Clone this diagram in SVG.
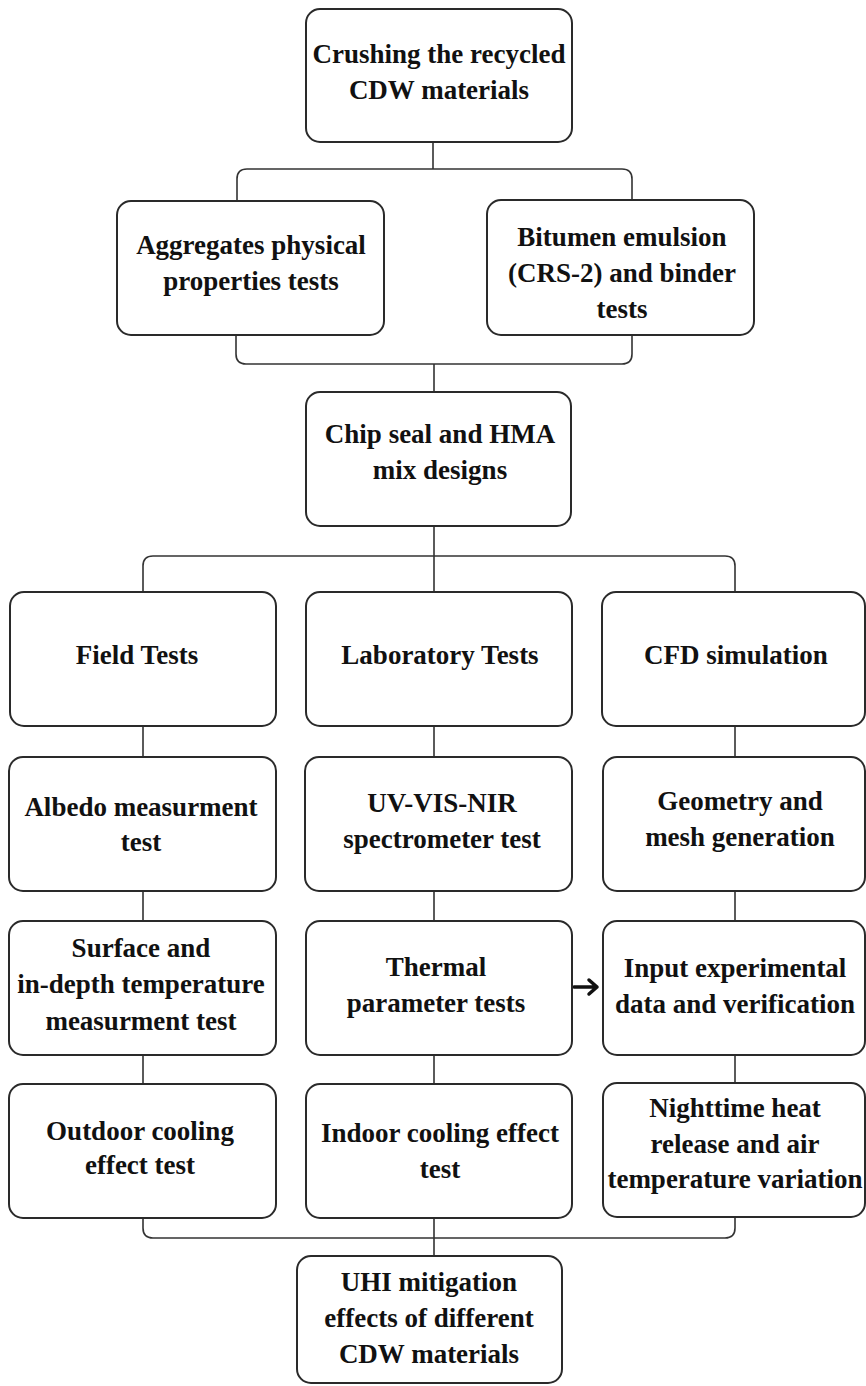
<svg xmlns="http://www.w3.org/2000/svg" width="866" height="1386" viewBox="0 0 866 1386">
<style>
.box{fill:#fff;stroke:#2a2a2a;stroke-width:2}
.t{font-family:"Liberation Serif","Times New Roman",serif;font-weight:bold;font-size:27px;fill:#111;text-anchor:middle}
.c{fill:none;stroke:#333;stroke-width:1.6}
.arr{fill:none;stroke:#111;stroke-width:3.5;stroke-linecap:round;stroke-linejoin:round}
</style>
<rect width="866" height="1386" fill="#fff"/>
<g id="connectors">
<path class="c" d="M433,142 V169 M237,200 V179 Q237,169 247,169 H622 Q632,169 632,179 V200"/>
<path class="c" d="M236,335 V354 Q236,364 246,364 H622 Q632,364 632,354 V335 M434,364 V392"/>
<path class="c" d="M434,526 V592 M143,592 V566 Q143,556 153,556 H725 Q735,556 735,566 V592"/>
<path class="c" d="M143,726 V757 M434,726 V757 M735,726 V757 M143,891 V921 M434,891 V921 M735,891 V921 M143,1055 V1084 M434,1055 V1084 M735,1055 V1084"/>
<path class="c" d="M143,1218 V1228 Q143,1238 153,1238 H725 Q735,1238 735,1228 V1218 M434,1218 V1256"/>
<path class="arr" d="M574,987 H597 M589,980 L597,987 L589,994"/>
</g>
<g id="n-crushing"><rect class="box" x="306" y="9" width="266" height="133" rx="14"/><text class="t" x="439"><tspan x="439" y="63">Crushing the recycled</tspan><tspan x="439" y="99">CDW materials</tspan></text></g>
<g id="n-aggregates"><rect class="box" x="117" y="201" width="267" height="134" rx="14"/><text class="t"><tspan x="251" y="254">Aggregates physical</tspan><tspan x="251" y="290">properties tests</tspan></text></g>
<g id="n-bitumen"><rect class="box" x="487" y="200" width="267" height="135" rx="14"/><text class="t"><tspan x="622" y="246">Bitumen emulsion</tspan><tspan x="622" y="282">(CRS-2) and binder</tspan><tspan x="622" y="318">tests</tspan></text></g>
<g id="n-chipseal"><rect class="box" x="306" y="392" width="265" height="134" rx="14"/><text class="t"><tspan x="440" y="443">Chip seal and HMA</tspan><tspan x="440" y="479">mix designs</tspan></text></g>
<g id="n-field"><rect class="box" x="10" y="592" width="266" height="134" rx="14"/><text class="t" x="137" y="664">Field Tests</text></g>
<g id="n-lab"><rect class="box" x="306" y="592" width="266" height="134" rx="14"/><text class="t" x="440" y="664">Laboratory Tests</text></g>
<g id="n-cfd"><rect class="box" x="602" y="592" width="263" height="134" rx="14"/><text class="t" x="736" y="664">CFD simulation</text></g>
<g id="n-albedo"><rect class="box" x="9" y="757" width="267" height="134" rx="14"/><text class="t"><tspan x="141" y="816">Albedo measurment</tspan><tspan x="141" y="851">test</tspan></text></g>
<g id="n-uv"><rect class="box" x="305" y="757" width="267" height="134" rx="14"/><text class="t"><tspan x="442" y="812">UV-VIS-NIR</tspan><tspan x="442" y="848">spectrometer test</tspan></text></g>
<g id="n-geometry"><rect class="box" x="603" y="757" width="262" height="134" rx="14"/><text class="t"><tspan x="740" y="810">Geometry and</tspan><tspan x="740" y="846">mesh generation</tspan></text></g>
<g id="n-surface"><rect class="box" x="9" y="921" width="267" height="134" rx="14"/><text class="t"><tspan x="141" y="957">Surface and</tspan><tspan x="141" y="993">in-depth temperature</tspan><tspan x="141" y="1030">measurment test</tspan></text></g>
<g id="n-thermal"><rect class="box" x="306" y="921" width="266" height="134" rx="14"/><text class="t"><tspan x="436" y="976">Thermal</tspan><tspan x="436" y="1012">parameter tests</tspan></text></g>
<g id="n-input"><rect class="box" x="603" y="921" width="262" height="134" rx="14"/><text class="t"><tspan x="735" y="977">Input experimental</tspan><tspan x="735" y="1013">data and verification</tspan></text></g>
<g id="n-outdoor"><rect class="box" x="9" y="1084" width="267" height="134" rx="14"/><text class="t"><tspan x="140" y="1140">Outdoor cooling</tspan><tspan x="140" y="1174">effect test</tspan></text></g>
<g id="n-indoor"><rect class="box" x="306" y="1084" width="266" height="134" rx="14"/><text class="t"><tspan x="440" y="1142">Indoor cooling effect</tspan><tspan x="440" y="1178">test</tspan></text></g>
<g id="n-nighttime"><rect class="box" x="603" y="1083" width="262" height="134" rx="14"/><text class="t"><tspan x="735" y="1117">Nighttime heat</tspan><tspan x="735" y="1153">release and air</tspan><tspan x="735" y="1188">temperature variation</tspan></text></g>
<g id="n-uhi"><rect class="box" x="297" y="1256" width="265" height="127" rx="14"/><text class="t"><tspan x="429" y="1291">UHI mitigation</tspan><tspan x="429" y="1327">effects of different</tspan><tspan x="429" y="1363">CDW materials</tspan></text></g>
</svg>
